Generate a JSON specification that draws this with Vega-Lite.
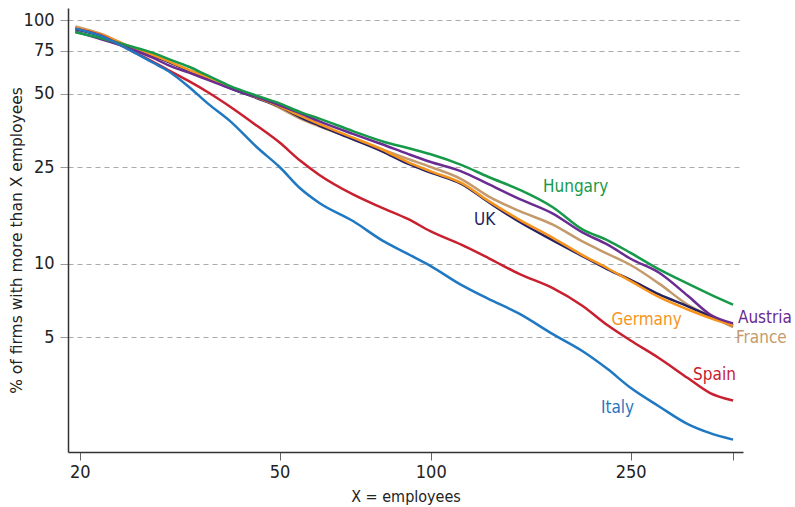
{
  "$schema": "https://vega.github.io/schema/vega-lite/v6.json",
  "width": 675,
  "height": 444,
  "autosize": {"type": "none"},
  "padding": {"left": 68, "top": 8, "right": 52, "bottom": 55},
  "background": "white",
  "config": {"view": {"stroke": null}, "font": "DejaVu Sans Condensed"},
  "datasets": {
    "series": [
      {"c":"France","x":19.6,"y":94.5},{"c":"France","x":22,"y":88.2},{"c":"France","x":25,"y":78.5},{"c":"France","x":28,"y":72.3},{"c":"France","x":30,"y":68},{"c":"France","x":33,"y":62.5},{"c":"France","x":36,"y":58.5},{"c":"France","x":40,"y":52.8},{"c":"France","x":45,"y":48.5},{"c":"France","x":50,"y":43.7},{"c":"France","x":55,"y":39.5},{"c":"France","x":60,"y":36.7},{"c":"France","x":70,"y":32.8},{"c":"France","x":80,"y":29.5},{"c":"France","x":90,"y":27},{"c":"France","x":100,"y":25},{"c":"France","x":115,"y":22.3},{"c":"France","x":130,"y":19},{"c":"France","x":150,"y":16.5},{"c":"France","x":175,"y":14.5},{"c":"France","x":200,"y":12.4},{"c":"France","x":225,"y":11},{"c":"France","x":250,"y":9.9},{"c":"France","x":285,"y":8.3},{"c":"France","x":325,"y":6.8},{"c":"France","x":360,"y":6.1},{"c":"France","x":400,"y":5.5},
      {"c":"UK","x":19.6,"y":92},{"c":"UK","x":22,"y":86.5},{"c":"UK","x":25,"y":78},{"c":"UK","x":28,"y":71.5},{"c":"UK","x":30,"y":67.5},{"c":"UK","x":33,"y":62},{"c":"UK","x":36,"y":58},{"c":"UK","x":40,"y":52.5},{"c":"UK","x":45,"y":48},{"c":"UK","x":50,"y":44.3},{"c":"UK","x":55,"y":40},{"c":"UK","x":60,"y":37},{"c":"UK","x":70,"y":32.5},{"c":"UK","x":80,"y":29},{"c":"UK","x":90,"y":25.8},{"c":"UK","x":100,"y":23.7},{"c":"UK","x":115,"y":21.3},{"c":"UK","x":130,"y":18},{"c":"UK","x":150,"y":14.9},{"c":"UK","x":175,"y":12.5},{"c":"UK","x":200,"y":10.8},{"c":"UK","x":225,"y":9.5},{"c":"UK","x":250,"y":8.6},{"c":"UK","x":285,"y":7.5},{"c":"UK","x":325,"y":6.7},{"c":"UK","x":360,"y":6.1},{"c":"UK","x":400,"y":5.6},
      {"c":"Germany","x":19.6,"y":93},{"c":"Germany","x":22,"y":87.5},{"c":"Germany","x":25,"y":78.5},{"c":"Germany","x":28,"y":72},{"c":"Germany","x":30,"y":68},{"c":"Germany","x":33,"y":62.5},{"c":"Germany","x":36,"y":58.3},{"c":"Germany","x":40,"y":52.8},{"c":"Germany","x":45,"y":48.3},{"c":"Germany","x":50,"y":44.4},{"c":"Germany","x":55,"y":40.5},{"c":"Germany","x":60,"y":37.5},{"c":"Germany","x":70,"y":33},{"c":"Germany","x":80,"y":29.5},{"c":"Germany","x":90,"y":26.2},{"c":"Germany","x":100,"y":24},{"c":"Germany","x":115,"y":21.5},{"c":"Germany","x":130,"y":18.2},{"c":"Germany","x":150,"y":15.2},{"c":"Germany","x":175,"y":12.8},{"c":"Germany","x":200,"y":10.9},{"c":"Germany","x":225,"y":9.6},{"c":"Germany","x":250,"y":8.5},{"c":"Germany","x":285,"y":7.3},{"c":"Germany","x":325,"y":6.5},{"c":"Germany","x":360,"y":6},{"c":"Germany","x":400,"y":5.6},
      {"c":"Austria","x":19.6,"y":90},{"c":"Austria","x":22,"y":83.8},{"c":"Austria","x":25,"y":77},{"c":"Austria","x":28,"y":70.1},{"c":"Austria","x":30,"y":65.5},{"c":"Austria","x":33,"y":61},{"c":"Austria","x":36,"y":57},{"c":"Austria","x":40,"y":52.5},{"c":"Austria","x":45,"y":48.5},{"c":"Austria","x":50,"y":44.8},{"c":"Austria","x":55,"y":41.5},{"c":"Austria","x":60,"y":38.5},{"c":"Austria","x":70,"y":34.2},{"c":"Austria","x":80,"y":31},{"c":"Austria","x":90,"y":28.3},{"c":"Austria","x":100,"y":26.2},{"c":"Austria","x":115,"y":24},{"c":"Austria","x":130,"y":21.3},{"c":"Austria","x":150,"y":18.5},{"c":"Austria","x":175,"y":16.1},{"c":"Austria","x":200,"y":13.5},{"c":"Austria","x":225,"y":12},{"c":"Austria","x":250,"y":10.5},{"c":"Austria","x":285,"y":9.2},{"c":"Austria","x":325,"y":7.4},{"c":"Austria","x":360,"y":6.2},{"c":"Austria","x":400,"y":5.7},
      {"c":"Hungary","x":19.6,"y":89.3},{"c":"Hungary","x":22,"y":84.7},{"c":"Hungary","x":25,"y":78.7},{"c":"Hungary","x":28,"y":73.5},{"c":"Hungary","x":30,"y":69.5},{"c":"Hungary","x":33,"y":64.5},{"c":"Hungary","x":36,"y":59.3},{"c":"Hungary","x":40,"y":53.6},{"c":"Hungary","x":45,"y":49.1},{"c":"Hungary","x":50,"y":45.6},{"c":"Hungary","x":55,"y":42},{"c":"Hungary","x":60,"y":39.5},{"c":"Hungary","x":70,"y":35.1},{"c":"Hungary","x":80,"y":31.9},{"c":"Hungary","x":90,"y":29.9},{"c":"Hungary","x":100,"y":28.2},{"c":"Hungary","x":115,"y":25.5},{"c":"Hungary","x":130,"y":22.8},{"c":"Hungary","x":150,"y":20.2},{"c":"Hungary","x":175,"y":17.1},{"c":"Hungary","x":200,"y":13.9},{"c":"Hungary","x":225,"y":12.5},{"c":"Hungary","x":250,"y":11.1},{"c":"Hungary","x":285,"y":9.5},{"c":"Hungary","x":325,"y":8.3},{"c":"Hungary","x":360,"y":7.5},{"c":"Hungary","x":400,"y":6.8},
      {"c":"Spain","x":19.6,"y":92.5},{"c":"Spain","x":22,"y":87},{"c":"Spain","x":25,"y":76},{"c":"Spain","x":28,"y":67.5},{"c":"Spain","x":30,"y":62.5},{"c":"Spain","x":33,"y":56.3},{"c":"Spain","x":36,"y":50.7},{"c":"Spain","x":40,"y":44},{"c":"Spain","x":45,"y":37},{"c":"Spain","x":50,"y":31.5},{"c":"Spain","x":55,"y":26.5},{"c":"Spain","x":60,"y":23.2},{"c":"Spain","x":70,"y":19.3},{"c":"Spain","x":80,"y":17},{"c":"Spain","x":90,"y":15.3},{"c":"Spain","x":100,"y":13.6},{"c":"Spain","x":115,"y":12},{"c":"Spain","x":130,"y":10.6},{"c":"Spain","x":150,"y":9.1},{"c":"Spain","x":175,"y":7.95},{"c":"Spain","x":200,"y":6.75},{"c":"Spain","x":225,"y":5.6},{"c":"Spain","x":250,"y":4.85},{"c":"Spain","x":285,"y":4.1},{"c":"Spain","x":325,"y":3.4},{"c":"Spain","x":360,"y":2.95},{"c":"Spain","x":400,"y":2.75},
      {"c":"Italy","x":19.6,"y":92.5},{"c":"Italy","x":22,"y":86.5},{"c":"Italy","x":25,"y":76},{"c":"Italy","x":28,"y":67},{"c":"Italy","x":30,"y":62},{"c":"Italy","x":33,"y":53.3},{"c":"Italy","x":36,"y":45.5},{"c":"Italy","x":40,"y":38.3},{"c":"Italy","x":45,"y":30.2},{"c":"Italy","x":50,"y":25},{"c":"Italy","x":55,"y":20.4},{"c":"Italy","x":60,"y":17.8},{"c":"Italy","x":70,"y":15},{"c":"Italy","x":80,"y":12.5},{"c":"Italy","x":90,"y":11},{"c":"Italy","x":100,"y":9.8},{"c":"Italy","x":115,"y":8.2},{"c":"Italy","x":130,"y":7.2},{"c":"Italy","x":150,"y":6.25},{"c":"Italy","x":175,"y":5.15},{"c":"Italy","x":200,"y":4.4},{"c":"Italy","x":225,"y":3.7},{"c":"Italy","x":250,"y":3.1},{"c":"Italy","x":285,"y":2.6},{"c":"Italy","x":325,"y":2.2},{"c":"Italy","x":360,"y":2.02},{"c":"Italy","x":400,"y":1.9}
    ],
    "labels": [
      {"c":"Hungary","x":167.3,"y":20.6},
      {"c":"UK","x":121.9,"y":15.1},
      {"c":"Germany","x":229,"y":5.91},
      {"c":"Austria","x":409,"y":5.98},
      {"c":"France","x":405.4,"y":4.98},
      {"c":"Spain","x":333,"y":3.49},
      {"c":"Italy","x":218.2,"y":2.57}
    ]
  },
  "encoding": {
    "x": {
      "field": "x", "type": "quantitative",
      "scale": {"type": "log", "domain": [18.95, 418.6], "nice": false},
      "axis": {
        "values": [20, 50, 100, 250, 400],
        "labelExpr": "datum.value == 400 ? '' : datum.label",
        "format": "d",
        "grid": false,
        "domainColor": "#333", "domainWidth": 1.5,
        "tickColor": "#666", "tickSize": 8, "tickWidth": 1,
        "labelFontSize": 18, "labelColor": "#222", "labelPadding": 3,
        "title": "X = employees", "titleFontSize": 16, "titleFontWeight": "normal",
        "titleColor": "#222", "titlePadding": 7
      }
    },
    "y": {
      "field": "y", "type": "quantitative",
      "scale": {"type": "log", "domain": [1.69, 112.4], "nice": false},
      "axis": {
        "values": [5, 10, 25, 50, 75, 100],
        "format": "d",
        "grid": true, "gridDash": [5, 4], "gridColor": "#aaa", "gridWidth": 1,
        "domainColor": "#333", "domainWidth": 1.5,
        "tickColor": "#999", "tickSize": 8, "tickWidth": 1,
        "labelFontSize": 18, "labelColor": "#222", "labelPadding": 6,
        "title": "% of firms with more than X employees",
        "titleFont": "DejaVu Sans", "titleFontSize": 15.5, "titleFontWeight": "normal",
        "titleColor": "#222",
        "titleAngle": -90, "titleAlign": "center", "titleBaseline": "middle",
        "titleX": -51.5, "titleY": 232
      }
    },
    "color": {
      "field": "c", "type": "nominal",
      "scale": {
        "domain": ["France", "UK", "Germany", "Austria", "Hungary", "Spain", "Italy"],
        "range": ["#c49a6c", "#262262", "#f7941d", "#6a2c91", "#17994a", "#c8202f", "#1f78c1"]
      },
      "legend": null
    }
  },
  "layer": [
    {
      "data": {"name": "series"},
      "mark": {"type": "line", "strokeWidth": 2.5, "interpolate": "monotone"}
    },
    {
      "data": {"name": "labels"},
      "mark": {"type": "text", "align": "left", "baseline": "middle", "fontSize": 17, "font": "DejaVu Sans Condensed"},
      "encoding": {"text": {"field": "c"}}
    }
  ]
}
